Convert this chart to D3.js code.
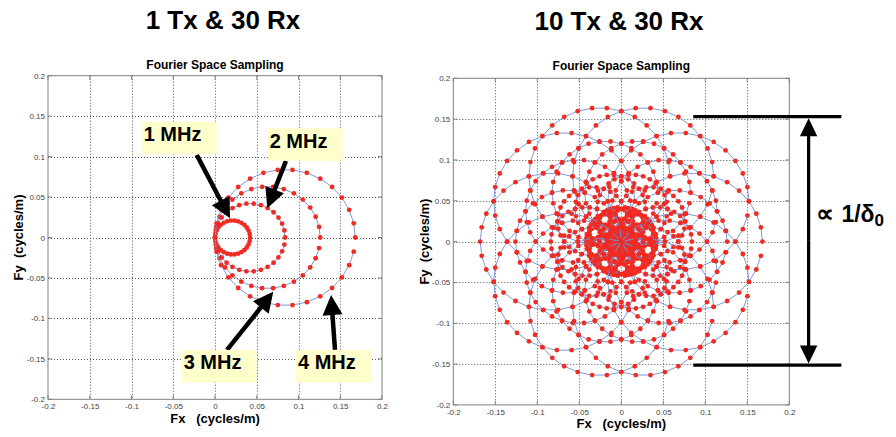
<!DOCTYPE html>
<html>
<head>
<meta charset="utf-8">
<script src="https://cdn.jsdelivr.net/npm/d3@7"></script>
<style>
  body { margin: 0; background: #fff; }
  svg { display: block; }
  text { font-family: Arial, "Liberation Sans", Helvetica, sans-serif; }
</style>
</head>
<body>
<svg id="chart" width="896" height="437"></svg>
<script>
// k-space radius of each frequency's circle (cycles/m)
const freqsMHz = [1, 2, 3, 4];
const kRadius = [0.021, 0.042, 0.063, 0.084];
// receiver directions (deg), 30 Rx on the ring
const rxAngles = [0, 12, 24, 36, 48, 60, 72, 84, 96, 108, 120, 132, 144, 156, 168,
                  180, 192, 204, 216, 228, 240, 252, 264, 276, 288, 300, 312, 324, 336, 348];
// transmitter directions (deg)
const txLeft = [0];
const txRight = [0, 36, 72, 108, 144, 180, 216, 252, 288, 324];

const ticks = [-0.2, -0.15, -0.1, -0.05, 0, 0.05, 0.1, 0.15, 0.2];
const tickLabels = ["-0.2", "-0.15", "-0.1", "-0.05", "0", "0.05", "0.1", "0.15", "0.2"];

// frequency call-outs on the left panel (data units)
const mhzLabels = ["1 MHz", "2 MHz", "3 MHz", "4 MHz"];
const mhzBoxes = [[-0.0878, 0.143], [0.0631, 0.135], [-0.0399, -0.139], [0.097, -0.139]];
const mhzTails = [[-0.0219, 0.1021], [0.085, 0.0947], [0.0144, -0.139], [0.1437, -0.139]];
const mhzTips = [[0.018, 0.0238], [0.0626, 0.0361], [0.0698, -0.0671], [0.139, -0.0712]];

// extent marker on the right panel (data units)
const extentY = [0.153, -0.1512];
const extentX = [0.0857, 0.262];
const extentArrowX = 0.223;

const RED = "#f12b22";
const BLUE = "#6f8fd6";
const NB = "\u00a0";

const svg = d3.select("#chart");
svg.append("rect").attr("width", 896).attr("height", 437).attr("fill", "#fff");

const rad = d => d * Math.PI / 180;

function arrow(g, tail, tip, w, headLen, headHalf) {
    const dx = tip[0] - tail[0], dy = tip[1] - tail[1];
    const len = Math.hypot(dx, dy);
    const ux = dx / len, uy = dy / len;
    const bx = tip[0] - ux * headLen, by = tip[1] - uy * headLen;
    g.append("line")
        .attr("x1", tail[0]).attr("y1", tail[1])
        .attr("x2", bx + ux).attr("y2", by + uy)
        .attr("stroke", "#000").attr("stroke-width", w);
    g.append("polygon")
        .attr("points", [
            [tip[0], tip[1]],
            [bx - uy * headHalf, by + ux * headHalf],
            [bx + uy * headHalf, by - ux * headHalf]
        ].map(p => p.join(",")).join(" "))
        .attr("fill", "#000");
}

function drawPanel(cfg) {
    const x = d3.scaleLinear().domain([-0.2, 0.2]).range([cfg.left, cfg.right]);
    const y = d3.scaleLinear().domain([-0.2, 0.2]).range([cfg.bottom, cfg.top]);
    const g = svg.append("g");

    // grid
    const inner = ticks.slice(1, -1);
    g.selectAll(".gx").data(inner).enter().append("line")
        .attr("x1", d => Math.round(x(d)) + 0.5).attr("x2", d => Math.round(x(d)) + 0.5)
        .attr("y1", cfg.top).attr("y2", cfg.bottom)
        .attr("stroke", "#555").attr("stroke-dasharray", "1,2");
    g.selectAll(".gy").data(inner).enter().append("line")
        .attr("y1", d => Math.round(y(d)) + 0.5).attr("y2", d => Math.round(y(d)) + 0.5)
        .attr("x1", cfg.left).attr("x2", cfg.right)
        .attr("stroke", "#555").attr("stroke-dasharray", "1,2");

    // axes labels via d3 axes
    const ax = g.append("g").attr("transform", `translate(0,${cfg.bottom})`)
        .call(d3.axisBottom(x).tickValues(ticks).tickFormat((d, i) => tickLabels[i])
            .tickSize(0).tickPadding(4.5));
    const ay = g.append("g").attr("transform", `translate(${cfg.left},0)`)
        .call(d3.axisLeft(y).tickValues(ticks).tickFormat((d, i) => tickLabels[i])
            .tickSize(0).tickPadding(3));
    [ax, ay].forEach(a => {
        a.select(".domain").remove();
        a.selectAll("text").attr("font-size", 8).attr("fill", "#444")
            .attr("font-family", "Arial, 'Liberation Sans', sans-serif");
    });

    // box and inward ticks
    g.append("rect")
        .attr("x", cfg.left).attr("y", cfg.top)
        .attr("width", cfg.right - cfg.left).attr("height", cfg.bottom - cfg.top)
        .attr("fill", "none").attr("stroke", "#808080").attr("stroke-width", 1);
    ticks.forEach(t => {
        [[cfg.top, 4], [cfg.bottom, -4]].forEach(([yy, l]) =>
            g.append("line").attr("x1", x(t)).attr("x2", x(t)).attr("y1", yy).attr("y2", yy + l)
                .attr("stroke", "#808080"));
        [[cfg.left, 4], [cfg.right, -4]].forEach(([xx, l]) =>
            g.append("line").attr("y1", y(t)).attr("y2", y(t)).attr("x1", xx).attr("x2", xx + l)
                .attr("stroke", "#808080"));
    });

    // sampling circles: one series per Tx and frequency, Rx in order
    const line = d3.line().x(p => x(p[0])).y(p => y(p[1]));
    cfg.tx.forEach(t => {
        kRadius.forEach(k => {
            const pts = rxAngles.map(r => [
                k * (Math.cos(rad(t)) + Math.cos(rad(r))),
                k * (Math.sin(rad(t)) + Math.sin(rad(r)))
            ]);
            g.append("path").attr("d", line(pts))
                .attr("fill", "none").attr("stroke", BLUE).attr("stroke-width", 0.9);
            g.append("g").selectAll("circle").data(pts).enter().append("circle")
                .attr("cx", p => x(p[0])).attr("cy", p => y(p[1]))
                .attr("r", 2.4).attr("fill", RED);
        });
    });

    // titles and axis labels
    svg.append("text").attr("x", cfg.titleX).attr("y", cfg.titleY)
        .attr("text-anchor", "middle").attr("font-size", 26).attr("font-weight", "bold")
        .text(cfg.title);
    svg.append("text").attr("x", (cfg.left + cfg.right) / 2).attr("y", cfg.subY)
        .attr("text-anchor", "middle").attr("font-size", 12).attr("font-weight", "bold")
        .text("Fourier Space Sampling");
    svg.append("text").attr("x", (cfg.left + cfg.right) / 2).attr("y", cfg.xLabY)
        .attr("text-anchor", "middle").attr("font-size", 13).attr("font-weight", "bold")
        .text("Fx" + NB + NB + NB + "(cycles/m)");
    svg.append("text")
        .attr("transform", `translate(${cfg.yLabX},${(cfg.top + cfg.bottom) / 2}) rotate(-90)`)
        .attr("text-anchor", "middle").attr("font-size", 13).attr("font-weight", "bold")
        .text("Fy" + NB + NB + "(cycles/m)");

    return { x, y };
}

const L = drawPanel({
    left: 48, right: 382, top: 75.7, bottom: 399.3, tx: txLeft,
    title: "1 Tx & 30 Rx", titleX: 223, titleY: 29, subY: 69, xLabY: 423, yLabX: 23
});
const R = drawPanel({
    left: 453.3, right: 789.3, top: 78.3, bottom: 404.9, tx: txRight,
    title: "10 Tx & 30 Rx", titleX: 619, titleY: 30, subY: 70, xLabY: 428, yLabX: 429
});

// frequency call-outs
const ann = svg.append("g");
mhzLabels.forEach((lab, i) => {
    const bx = L.x(mhzBoxes[i][0]), by = L.y(mhzBoxes[i][1]);
    arrow(ann, [L.x(mhzTails[i][0]), L.y(mhzTails[i][1])],
        [L.x(mhzTips[i][0]), L.y(mhzTips[i][1])], 4.5, 20, 10);
    ann.append("rect").attr("x", bx).attr("y", by).attr("width", 75).attr("height", 32.5)
        .attr("fill", "#ffffcc");
    ann.append("text").attr("x", bx + 2).attr("y", by + 19.5)
        .attr("font-size", 20).attr("font-weight", "bold").text(lab);
});

// extent marker on right panel
extentY.forEach(v => {
    ann.append("line").attr("x1", R.x(extentX[0])).attr("x2", R.x(extentX[1]))
        .attr("y1", R.y(v)).attr("y2", R.y(v)).attr("stroke", "#000").attr("stroke-width", 3.2);
});
const ax0 = R.x(extentArrowX);
const yTop = R.y(extentY[0]) + 1.5, yBot = R.y(extentY[1]) - 1.5;
const midY = (yTop + yBot) / 2;
arrow(ann, [ax0, midY], [ax0, yTop], 3.2, 18, 8.7);
arrow(ann, [ax0, midY], [ax0, yBot], 3.2, 18, 8.7);

const lbl = ann.append("text").attr("y", R.y(0.024)).attr("font-weight", "bold");
lbl.append("tspan").attr("x", R.x(0.232)).attr("font-size", 25).text("\u221d");
lbl.append("tspan").attr("x", R.x(0.262)).attr("font-size", 23).text("1/\u03b4");
lbl.append("tspan").attr("dy", 4).attr("font-size", 17).text("0");
</script>
</body>
</html>
